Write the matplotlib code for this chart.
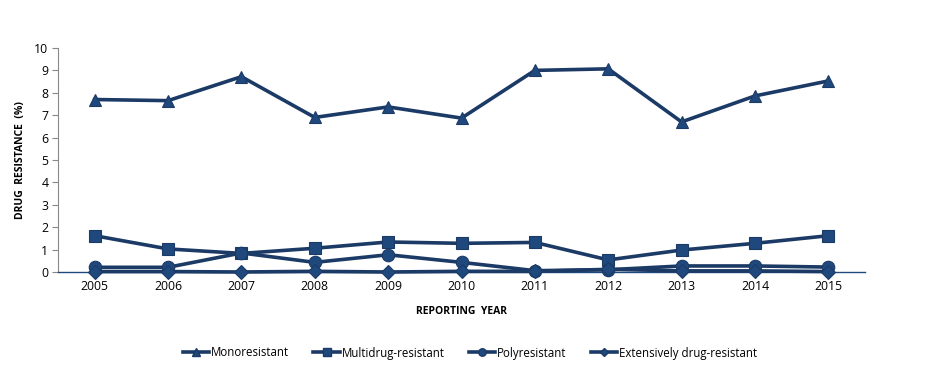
import matplotlib
matplotlib.use("Agg")
import matplotlib.pyplot as plt
from matplotlib.lines import Line2D

years = ["2005", "2006", "2007", "2008", "2009", "2010", "2011", "2012", "2013", "2014", "2015"]
mono = [7.7, 7.65, 8.72, 6.9, 7.37, 6.87, 9.0, 9.07, 6.7, 7.86, 8.53]
multi = [1.62, 1.03, 0.83, 1.06, 1.34, 1.28, 1.32, 0.54, 0.98, 1.28, 1.62]
poly = [0.21, 0.21, 0.85, 0.43, 0.77, 0.43, 0.06, 0.1, 0.27, 0.27, 0.22]
xdr = [0.02, 0.02, 0.0, 0.03, 0.0, 0.03, 0.03, 0.12, 0.05, 0.05, 0.02]
series_names = ["Monoresistant", "Multidrug-resistant", "Polyresistant", "Extensively drug-resistant"]
yticks = list(range(0, 11))

plt.rcParams['font.family'] = ['Open Sans', 'DejaVu Sans']

fig = plt.figure(figsize=(9.31, 3.73), dpi=100)
ax = fig.add_axes([58/931, 1-272/373, (865-58)/931, (272-48)/373])

line_c = "#1B3A66"
face_c = "#1F497D"
x = list(range(len(years)))
markers = ["^", "s", "o", "D"]
sizes = [9, 9, 9, 7]
handles = []
for vals, m, s, name in zip([mono, multi, poly, xdr], markers, sizes, series_names):
    ax.plot(x, vals, color=line_c, lw=2.6, marker=m, ms=s, mfc=face_c, mec=line_c, mew=0.8, zorder=3, clip_on=False)
    handles.append(Line2D([], [], color=line_c, lw=2.6, marker=m, ms=s*0.6, mfc=face_c, mec=line_c, label=name))

ax.set_xlim(-0.5, len(years) - 0.5)
ax.set_ylim(0, 10)
ax.set_yticks(yticks)
ax.set_yticklabels([str(t) for t in yticks])
ax.set_xticks(x)
ax.set_xticklabels(years)
ax.tick_params(axis='y', length=4, color="#888888", labelsize=8.8, pad=3)
ax.tick_params(axis='x', length=0, labelsize=8.8, pad=6)
for s in ["top", "right"]:
    ax.spines[s].set_visible(False)
ax.spines["left"].set_color("#888888")
ax.spines["bottom"].set_color(face_c)
ax.spines["bottom"].set_linewidth(1.0)

ax.set_ylabel("DRUG  RESISTANCE  (%)", fontsize=7.5, fontweight="bold", labelpad=6)
ax.set_xlabel("REPORTING  YEAR", fontsize=7.5, fontweight="bold", labelpad=9)

fig.legend(handles=handles, loc="center", bbox_to_anchor=(470/931, 1-353/373), ncol=4,
           frameon=False, fontsize=8.3, handlelength=2.3, handletextpad=0.15, columnspacing=2.1)

fig.savefig("out.png", dpi=100)
